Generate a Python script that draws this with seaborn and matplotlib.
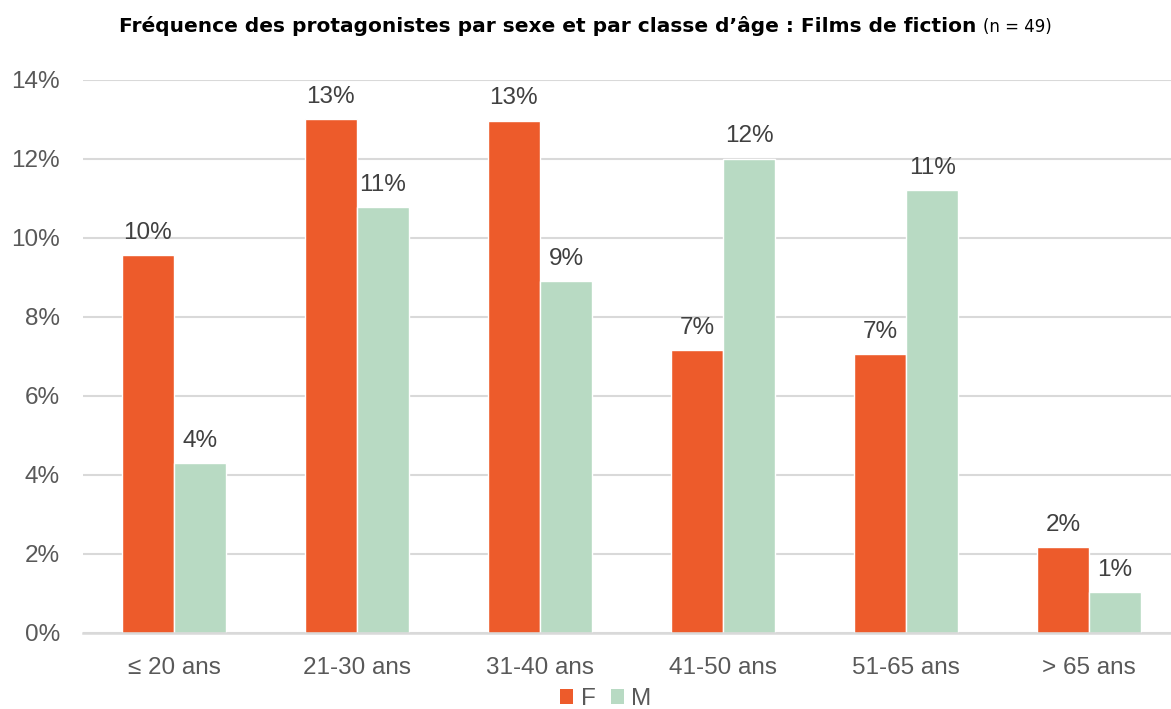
import matplotlib
matplotlib.use("Agg")
import matplotlib.pyplot as plt
import seaborn as sns
import pandas as pd
from matplotlib.patches import Patch

categories = ["≤ 20 ans", "21-30 ans", "31-40 ans", "41-50 ans", "51-65 ans", "> 65 ans"]
f_values = [9.56, 13.0, 12.96, 7.14, 7.06, 2.16]
m_values = [4.30, 10.78, 8.89, 12.0, 11.19, 1.02]
f_labels = ["10%", "13%", "13%", "7%", "7%", "2%"]
m_labels = ["4%", "11%", "9%", "12%", "11%", "1%"]
series = ["F", "M"]
yticks = [0, 2, 4, 6, 8, 10, 12, 14]

sns.set_theme(style="white")
plt.rcParams["font.family"] = ["Liberation Sans", "DejaVu Sans"]

df = pd.DataFrame({
    "cat": categories * 2,
    "sexe": ["F"] * len(categories) + ["M"] * len(categories),
    "val": f_values + m_values,
})

colors = {"F": "#ED5B2B", "M": "#B8DAC3"}
FS = 17.5

fig = plt.figure(figsize=(11.71, 7.09), dpi=100)
ax = fig.add_axes([83 / 1171, 1 - 632.5 / 709, (1171 - 83) / 1171, (632.5 - 79.5) / 709])

sns.barplot(data=df, x="cat", y="val", hue="sexe", order=categories, hue_order=series,
            palette=colors, width=0.57, ax=ax, legend=False, saturation=1, errorbar=None)

ax.set_xlim(-0.497, 5.448)
ax.set_ylim(0, 14)
ax.set_yticks(yticks)
ax.set_yticklabels([f"{t}%" for t in yticks])
ax.yaxis.grid(True, color="#D9D9D9", linewidth=1.5)
ax.set_axisbelow(True)
for s in ["top", "right", "left"]:
    ax.spines[s].set_visible(False)
ax.spines["bottom"].set_color("#D9D9D9")
ax.spines["bottom"].set_linewidth(1.8)
ax.tick_params(axis="both", length=0, labelsize=FS, colors="#595959")
ax.tick_params(axis="y", pad=16.5)
ax.tick_params(axis="x", pad=17.5)
ax.set_xlabel("")
ax.set_ylabel("")

labels_all = [f_labels, m_labels]
for cont, labs in zip(ax.containers, labels_all):
    ax.bar_label(cont, labels=labs, padding=8, fontsize=FS, color="#404040")

t1 = fig.text(119 / 1171, 1 - 32 / 709,
              "Fréquence des protagonistes par sexe et par classe d’âge : Films de fiction",
              fontsize=14.5, fontweight="bold", color="#000000", va="baseline", ha="left",
              family=["DejaVu Sans"])
fig.canvas.draw()
bb = t1.get_window_extent(renderer=fig.canvas.get_renderer())
fig.text((bb.x1 + 7) / 1171, 1 - 32 / 709, "(n = 49)", fontsize=12, color="#000000",
         va="baseline", ha="left", family=["DejaVu Sans"])

handles = [Patch(facecolor=colors[s], edgecolor="none", label=s) for s in series]
fig.legend(handles=handles, loc="center", bbox_to_anchor=(606 / 1171, 1 - 699 / 709), ncol=2,
           frameon=False, fontsize=FS, handlelength=0.53, handleheight=0.53, handletextpad=0.3,
           columnspacing=0.65, labelcolor="#595959", borderpad=0, borderaxespad=0)

fig.savefig("out.png", dpi=100)
